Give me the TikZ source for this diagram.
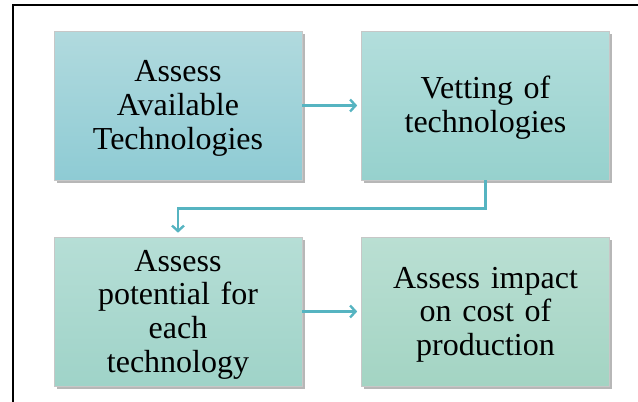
\documentclass[tikz,border=0pt]{standalone}
\usepackage{fontspec}
\setmainfont{Liberation Serif}
\usetikzlibrary{arrows.meta,shadows}

\definecolor{flowline}{HTML}{56B4C1}
\tikzset{
  stepbox/.style={draw=black!22, line width=0.6pt, minimum width=248pt, minimum height=149pt,
    inner sep=0pt, text width=236pt, align=center,
    font=\fontsize{32}{33.8}\selectfont,
    execute at begin node={\rule{0pt}{27.5pt}},
    drop shadow={shadow xshift=2.5pt, shadow yshift=-2.5pt, opacity=0.4, fill=black!70}},
  flow/.style={draw=flowline, line width=2.4pt, -{Straight Barb[length=5.5pt,width=12pt,line width=2.4pt]}}
}

\begin{document}
\begin{tikzpicture}[x=1pt, y=-1pt]
        \clip (0, 0) rectangle (638, 402);
        \useasboundingbox (0, 0) rectangle (638, 402);
        \draw [line width=2pt] (12.5, 420) |- (660, 5);

        \node[stepbox, top color={rgb,255:red,177;green,218;blue,222}, bottom color={rgb,255:red,142;green,203;blue,212}]
            (assess) at (178, 105.5) {Assess\\Available\\Technologies};
        \node[stepbox, top color={rgb,255:red,179;green,222;blue,220}, bottom color={rgb,255:red,150;green,209;blue,205}]
            (vetting) at (485.5, 105.5) {Vetting of\\technologies};
        \node[stepbox, top color={rgb,255:red,182;green,222;blue,214}, bottom color={rgb,255:red,159;green,211;blue,200}]
            (potential) at (178, 311.5) {Assess\\potential for\\each\\technology};
        \node[stepbox, top color={rgb,255:red,186;green,223;blue,211}, bottom color={rgb,255:red,163;green,212;blue,195}]
            (impact) at (485.5, 311.5) {Assess impact\\on cost of\\production};

        \draw [flow, shorten >=4pt] (assess) -- (vetting);
        \draw [flow, shorten >=4pt] (vetting.south) -- ++(0, 28) -| (potential.north);
        \draw [flow, shorten >=4pt] (potential) -- (impact);
        \end{tikzpicture}
\end{document}
